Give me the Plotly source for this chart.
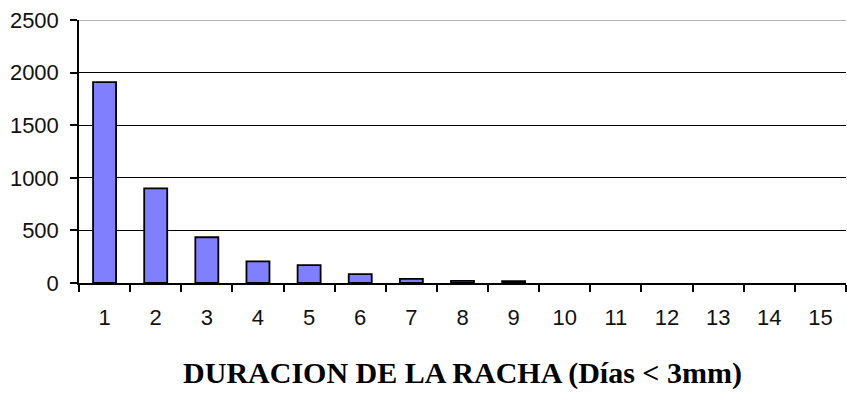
import plotly.graph_objects as go

# Duración de la racha (días consecutivos con < 3 mm) y número de rachas
duracion = [str(d) for d in range(1, 16)]
rachas = [1910, 900, 435, 205, 170, 85, 40, 20, 18, 0, 0, 0, 0, 0, 0]

y_ticks = [0, 500, 1000, 1500, 2000, 2500]
y_max = 2500

# empty categories get no outline so nothing is drawn on the axis
outline_widths = [1.8 if v > 0 else 0 for v in rachas]

fig = go.Figure()
fig.add_trace(go.Bar(
    x=duracion,
    y=rachas,
    marker=dict(color="#8080FF", line=dict(color="#000000", width=outline_widths)),
))

# upper border of the plot area is drawn lighter than the gridlines
fig.add_shape(
    type="line", xref="paper", yref="y",
    x0=0, x1=1, y0=y_max, y1=y_max,
    line=dict(color="#9a9a9a", width=1.5),
    layer="above",
)

fig.update_layout(
    width=847,
    height=395,
    margin=dict(l=79, r=1, t=20, b=112),
    paper_bgcolor="white",
    plot_bgcolor="white",
    bargap=0.55,
    showlegend=False,
    font=dict(family="Liberation Sans, Arial, sans-serif", size=22, color="#111111"),
)

fig.update_xaxes(
    type="category",
    tickson="boundaries",
    ticks="outside",
    ticklen=7,
    tickwidth=1.5,
    tickcolor="#000000",
    showline=True,
    linecolor="#000000",
    linewidth=1.5,
    showgrid=False,
    ticklabelstandoff=14,
    title=dict(
        text="<b>DURACION DE LA RACHA (Días < 3mm)</b>",
        font=dict(family="Liberation Serif, Times New Roman, serif", size=30, color="#000000"),
        standoff=33,
    ),
)

fig.update_yaxes(
    range=[0, y_max],
    tickvals=y_ticks,
    ticks="outside",
    ticklen=7,
    tickwidth=1.5,
    tickcolor="#000000",
    showline=True,
    linecolor="#000000",
    linewidth=1.5,
    showgrid=True,
    gridcolor="#000000",
    gridwidth=1,
    zeroline=False,
    ticklabelstandoff=7,
)

fig.write_html("out.html")
